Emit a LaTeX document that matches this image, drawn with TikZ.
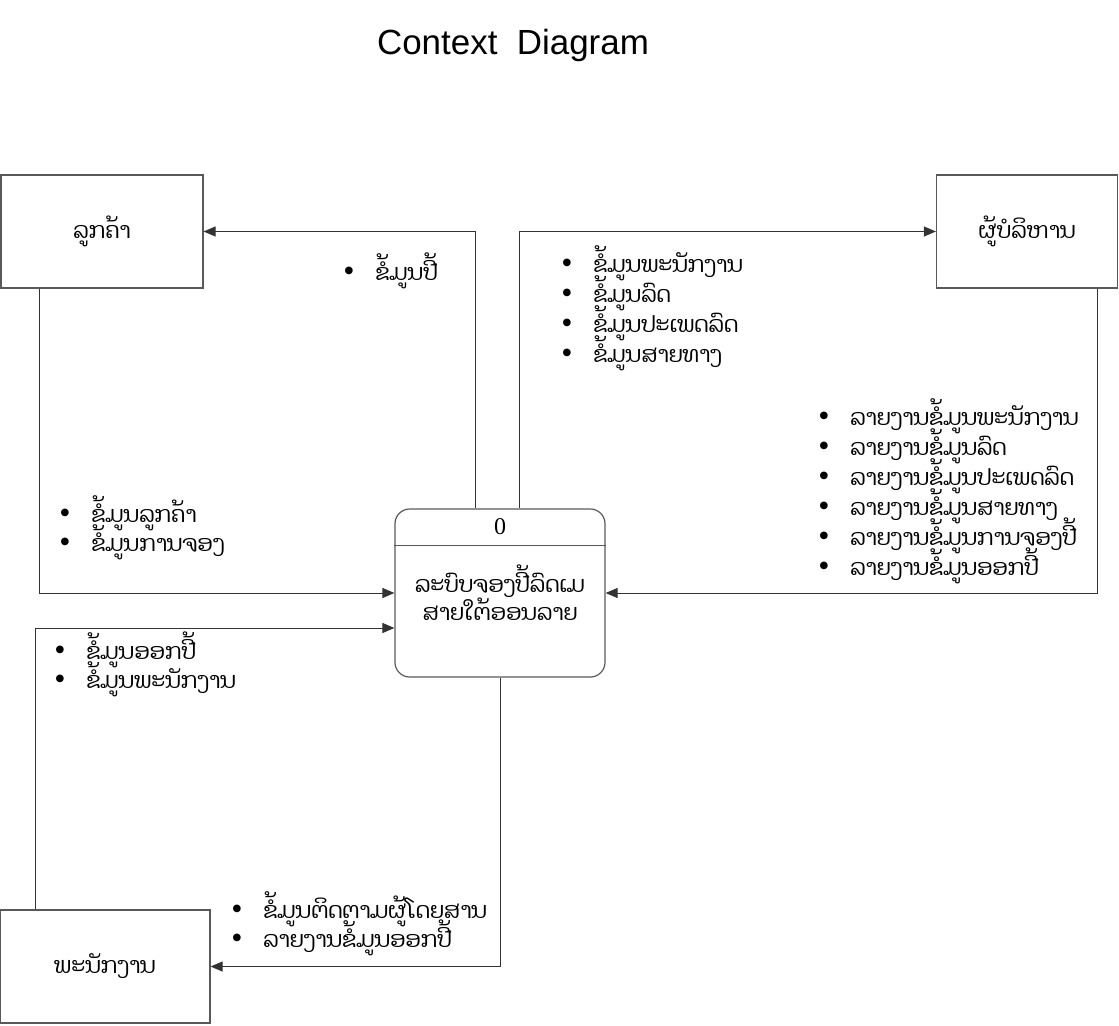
\documentclass[tikz,border=0pt]{standalone}
\usepackage{fontspec}
\usepackage{tikz}
\usetikzlibrary{arrows.meta}
\newfontfamily\laofont[Script=Lao]{Dhyana}
\newfontfamily\titlefont{Liberation Sans}
\newfontfamily\numfont{Liberation Serif}
\newcommand{\laosize}{\fontsize{16.8}{21}\selectfont}
\newcommand{\bul}{\makebox[24pt][l]{\numfont\fontsize{24}{24}\selectfont\raisebox{-1pt}{\textbullet}}}

\tikzset{
  entity/.style={draw=black!65, line width=0.9pt, minimum height=84.75pt, inner sep=0pt, font=\laofont\laosize},
  process/.style={draw=black!65, line width=0.9pt, rounded corners=11pt, minimum width=157.5pt, minimum height=126pt, inner sep=0pt},
  flow/.style={draw=black!80, line width=0.75pt, -{Triangle[length=9pt,width=7.5pt]}},
  item/.style={anchor=base west, inner sep=0pt, font=\laofont\laosize},
}

\begin{document}
\begin{tikzpicture}[x=0.75pt, y=-0.75pt]
    \useasboundingbox (0,0) rectangle (1119,1025);
    \node[font=\titlefont\fontsize{26.2}{30}\selectfont] (title) at (513,45) {Context~~Diagram};

    \node[entity, minimum width=151.5pt] (cust) at (102,231.5) {ລູກຄ້າ};
    \node[entity, minimum width=135.75pt] (admin) at (1027,231.5) {ຜູ້ບໍລິຫານ};
    \node[entity, minimum width=157.5pt] (staff) at (105,966.5) {ພະນັກງານ};

    \node[process] (proc) at (500,593) {};
    \draw[draw=black!65, line width=0.9pt] ([yshift=-27.75pt]proc.north west) -- ([yshift=-27.75pt]proc.north east);
    \node[font=\numfont\fontsize{18}{20}\selectfont] (pnum) at (500,527) {0};
    \node[font=\laofont\laosize, align=center] (pname) at (500,593) {ລະບົບຈອງປີ້ລົດເມ\\ສາຍໃຕ້ອອນລາຍ};

    \draw[flow] ([xshift=-18.75pt]proc.north) |- (cust.east);
    \draw[flow] ([xshift=14.25pt]proc.north) |- (admin.west);
    \draw[flow] ([xshift=29.25pt]cust.south west) |- (proc.west);
    \draw[flow] ([xshift=-15.75pt]admin.south east) |- (proc.east);
    \draw[flow] ([xshift=27pt]staff.north west) |- ([yshift=-26.25pt]proc.west);
    \draw[flow] (proc.south) |- (staff.east);

    \node[item] (ticket) at (343,280) {\bul ຂໍ້ມູນປີ້};
    \foreach \t [count=\i] in {ຂໍ້ມູນພະນັກງານ, ຂໍ້ມູນລົດ, ຂໍ້ມູນປະເພດລົດ, ຂໍ້ມູນສາຍທາງ}
        \node[item] (a\i) at (561,242+30*\i) {\bul \t};
    \foreach \t [count=\i] in {ລາຍງານຂໍ້ມູນພະນັກງານ, ລາຍງານຂໍ້ມູນລົດ, ລາຍງານຂໍ້ມູນປະເພດລົດ, ລາຍງານຂໍ້ມູນສາຍທາງ, ລາຍງານຂໍ້ມູນການຈອງປີ້, ລາຍງານຂໍ້ມູນອອກປີ້}
        \node[item] (r\i) at (818,395+30*\i) {\bul \t};
    \foreach \t [count=\i] in {ຂໍ້ມູນລູກຄ້າ, ຂໍ້ມູນການຈອງ}
        \node[item] (c\i) at (59,493+29*\i) {\bul \t};
    \foreach \t [count=\i] in {ຂໍ້ມູນອອກປີ້, ຂໍ້ມູນພະນັກງານ}
        \node[item] (s\i) at (54,630+29*\i) {\bul \t};
    \foreach \t [count=\i] in {ຂໍ້ມູນຕິດຕາມຜູ້ໂດຍສານ, ລາຍງານຂໍ້ມູນອອກປີ້}
        \node[item] (b\i) at (231,889+29*\i) {\bul \t};
\end{tikzpicture}
\end{document}
